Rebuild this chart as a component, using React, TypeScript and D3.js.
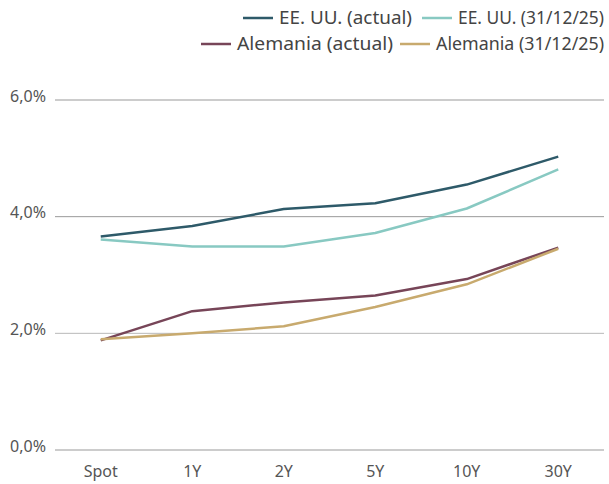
import React from 'react';
import * as d3 from 'd3';

const tenors = ['Spot', '1Y', '2Y', '5Y', '10Y', '30Y'];
const usActual = [3.66, 3.84, 4.13, 4.23, 4.55, 5.03];
const usDec25 = [3.61, 3.49, 3.49, 3.72, 4.14, 4.81];
const deActual = [1.88, 2.38, 2.53, 2.65, 2.93, 3.47];
const deDec25 = [1.9, 2.0, 2.12, 2.45, 2.84, 3.45];
const yTicks = [0, 2, 4, 6];

const series = [
  { name: 'EE. UU. (actual)', values: usActual, color: '#2e5a69' },
  { name: 'EE. UU. (31/12/25)', values: usDec25, color: '#88c9c2' },
  { name: 'Alemania (actual)', values: deActual, color: '#774558' },
  { name: 'Alemania (31/12/25)', values: deDec25, color: '#c8aa6e' },
];

const W = 609;
const H = 484;
const font = '"Noto Sans", "Open Sans", sans-serif';

const App = () => {
  const margin = { top: 100, right: 5, bottom: 34, left: 55 };

  const x = d3.scalePoint<string>()
    .domain(tenors)
    .range([margin.left, W - margin.right])
    .padding(0.5);

  const y = d3.scaleLinear()
    .domain([0, 6])
    .range([H - margin.bottom, margin.top]);

  const line = d3.line<number>()
    .x((_, i) => x(tenors[i]) as number)
    .y(d => y(d));

  // legend rows, right aligned to the plot edge
  const legendRows = [
    { y: 18, items: [series[0], series[1]], starts: [243, 422], widths: [133, 146] },
    { y: 44, items: [series[2], series[3]], starts: [201, 400], widths: [156, 168] },
  ];

  return (
    <div style={{ position: 'absolute', left: 0, top: 0 }}>
      <svg width={W} height={H} style={{ display: 'block', background: '#fff' }}>
        {yTicks.map(t => (
          <g key={t}>
            <line x1={margin.left} x2={W - margin.right} y1={y(t)} y2={y(t)}
              stroke={t === 2 ? '#b8b8b8' : '#999'} strokeWidth={1} />
            <text x={46} y={y(t)} dy="0.1em" textAnchor="end"
              fontFamily={font} fontSize={16} fill="#555">
              {d3.format('.1f')(t).replace('.', ',') + '%'}
            </text>
          </g>
        ))}

        {tenors.map(t => (
          <text key={t} x={x(t)} y={477} textAnchor="middle"
            fontFamily={font} fontSize={16} fill="#555">{t}</text>
        ))}

        {series.map(s => (
          <path key={s.name} d={line(s.values) || ''} fill="none"
            stroke={s.color} strokeWidth={2.5} strokeLinejoin="round" />
        ))}

        {legendRows.map((row, ri) => (
          <g key={ri}>
            {row.items.map((s, i) => (
              <g key={s.name}>
                <line x1={row.starts[i]} x2={row.starts[i] + 30} y1={row.y} y2={row.y}
                  stroke={s.color} strokeWidth={2.5} />
                <text x={row.starts[i] + 36} y={row.y} dy="0.35em"
                  textLength={row.widths[i]} lengthAdjust="spacingAndGlyphs"
                  fontFamily={font} fontSize={18} fill="#444">{s.name}</text>
              </g>
            ))}
          </g>
        ))}
      </svg>
    </div>
  );
};

export default App;
